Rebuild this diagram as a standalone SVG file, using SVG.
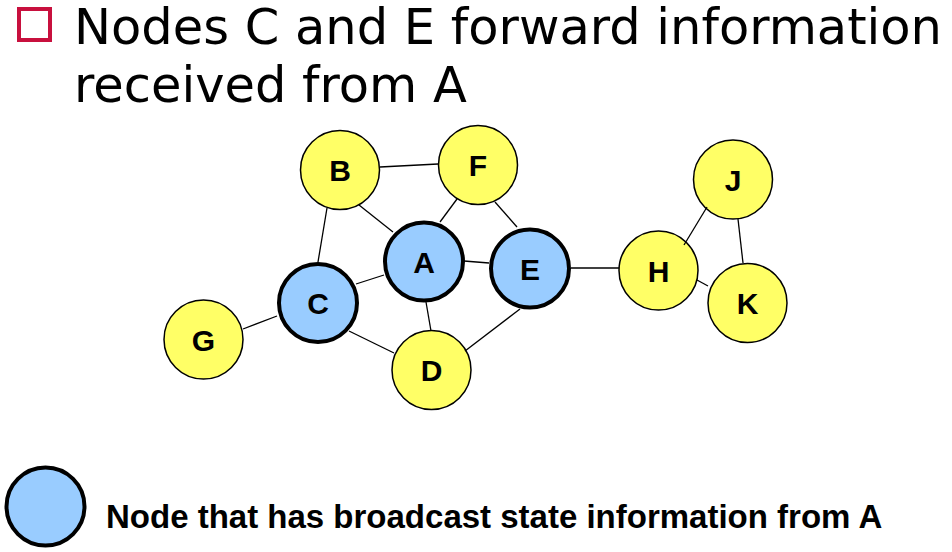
<svg xmlns="http://www.w3.org/2000/svg" width="952" height="552" viewBox="0 0 952 552">
  <style>
    .title { font-family: "DejaVu Sans", Verdana, sans-serif; font-size: 49.5px; fill: #000; }
    .node-y circle { fill: #FFFF66; stroke: #000; stroke-width: 1.5; }
    .node-b circle { fill: #99CCFF; stroke: #000; stroke-width: 4; }
    .lbl { font-family: "Liberation Sans", Arial, sans-serif; font-weight: bold; font-size: 30px; fill: #000; text-anchor: middle; }
    .edges line { stroke: #000; stroke-width: 1.3; }
    .legend-text { font-family: "Liberation Sans", Arial, sans-serif; font-weight: bold; font-size: 33px; fill: #000; }
  </style>
  <rect width="952" height="552" fill="#fff"/>

  <!-- heading -->
  <g id="heading">
    <rect x="19" y="9" width="31" height="31" fill="none" stroke="#C8103E" stroke-width="4"/>
    <text class="title" x="74" y="44" textLength="868" lengthAdjust="spacingAndGlyphs">Nodes C and E forward information</text>
    <text class="title" x="74" y="102">received from A</text>
  </g>

  <!-- nodes -->
  <g id="node-B" class="node-y"><circle cx="340" cy="170" r="39.5"/><text class="lbl" x="340" y="181">B</text></g>
  <g id="node-F" class="node-y"><circle cx="478" cy="165" r="39.5"/><text class="lbl" x="478" y="176">F</text></g>
  <g id="node-G" class="node-y"><circle cx="203.5" cy="339.5" r="39.5"/><text class="lbl" x="203.5" y="350.5">G</text></g>
  <g id="node-D" class="node-y"><circle cx="431.5" cy="370" r="39.5"/><text class="lbl" x="431.5" y="381">D</text></g>
  <g id="node-H" class="node-y"><circle cx="658.5" cy="270.5" r="39.5"/><text class="lbl" x="658.5" y="281.5">H</text></g>
  <g id="node-J" class="node-y"><circle cx="733" cy="179.5" r="39.5"/><text class="lbl" x="733" y="190.5">J</text></g>
  <g id="node-K" class="node-y"><circle cx="747.5" cy="303" r="39.5"/><text class="lbl" x="747.5" y="314">K</text></g>
  <g id="node-A" class="node-b"><circle cx="424" cy="261.5" r="39"/><text class="lbl" x="424" y="272.5">A</text></g>
  <g id="node-E" class="node-b"><circle cx="530" cy="268.5" r="39"/><text class="lbl" x="530" y="279.5">E</text></g>
  <g id="node-C" class="node-b"><circle cx="318" cy="303" r="39"/><text class="lbl" x="318" y="314">C</text></g>

  <!-- links -->
  <g id="connectors" class="edges">
    <line x1="380" y1="167" x2="438" y2="164"/>
    <line x1="359" y1="205" x2="393" y2="232"/>
    <line x1="327" y1="208" x2="318" y2="262"/>
    <line x1="457" y1="199" x2="440" y2="222"/>
    <line x1="495" y1="202" x2="517" y2="227"/>
    <line x1="464" y1="261" x2="489" y2="263"/>
    <line x1="384" y1="275" x2="356" y2="284"/>
    <line x1="426" y1="302" x2="431" y2="331"/>
    <line x1="277" y1="316" x2="243" y2="329"/>
    <line x1="349" y1="331" x2="394" y2="353"/>
    <line x1="520" y1="309" x2="465" y2="351"/>
    <line x1="571" y1="268" x2="619" y2="268"/>
    <line x1="684" y1="245" x2="707" y2="207"/>
    <line x1="738" y1="219" x2="743" y2="263"/>
    <line x1="697" y1="280" x2="708" y2="286"/>
  </g>

  <!-- key -->
  <g id="legend">
    <circle cx="45.5" cy="506.5" r="39" fill="#99CCFF" stroke="#000" stroke-width="4"/>
    <text class="legend-text" x="106" y="528">Node that has broadcast state information from A</text>
  </g>
</svg>
